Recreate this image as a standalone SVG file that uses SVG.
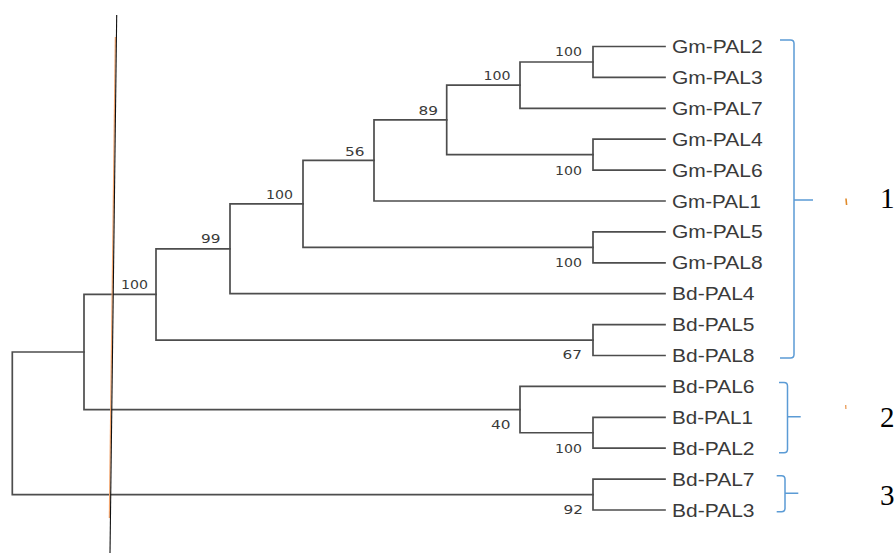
<svg xmlns="http://www.w3.org/2000/svg" width="896" height="554" viewBox="0 0 896 554">
  <style>
    .br { fill: none; stroke: #4d4d4d; stroke-width: 1.7; stroke-linecap: square; }
    .leaf { font-family: "Liberation Sans", Arial, sans-serif; font-size: 17.5px; fill: #3a3a3a; }
    .bs { font-family: "DejaVu Sans", Verdana, sans-serif; font-size: 13px; fill: #3a3a3a; text-anchor: end; }
    .brace { fill: none; stroke: #5b9bd5; stroke-width: 1.5; }
    .grp { font-family: "Liberation Serif", "Times New Roman", serif; font-size: 29px; fill: #000; }
  </style>
  <rect width="896" height="554" fill="#ffffff"/>

  <!-- tree branches -->
  <g id="branches">
    <path class="br" d="M593,46.5 V77.4 M593,46.5 H665 M593,77.4 H665"/>
    <path class="br" d="M520,62 V108.3 M520,62 H593 M520,108.3 H665"/>
    <path class="br" d="M593,139.2 V170.1 M593,139.2 H665 M593,170.1 H665"/>
    <path class="br" d="M446.7,85.1 V154.65 M446.7,85.1 H520 M446.7,154.65 H593"/>
    <path class="br" d="M374,119.9 V201 M374,119.9 H446.7 M374,201 H665"/>
    <path class="br" d="M593,231.9 V262.8 M593,231.9 H665 M593,262.8 H665"/>
    <path class="br" d="M303,160.45 V247.35 M303,160.45 H374 M303,247.35 H593"/>
    <path class="br" d="M230,203.9 V293.7 M230,203.9 H303 M230,293.7 H665"/>
    <path class="br" d="M593,324.6 V355.5 M593,324.6 H665 M593,355.5 H665"/>
    <path class="br" d="M156,248.8 V340.05 M156,248.8 H230 M156,340.05 H593"/>
    <path class="br" d="M593,417.3 V448.2 M593,417.3 H665 M593,448.2 H665"/>
    <path class="br" d="M520,386.4 V432.75 M520,386.4 H665 M520,432.75 H593"/>
    <path class="br" d="M84,294.4 V409.6 M84,294.4 H156 M84,409.6 H520"/>
    <path class="br" d="M593,479.1 V510 M593,479.1 H665 M593,510 H665"/>
    <path class="br" d="M12.3,352 V494.55 M12.3,352 H84 M12.3,494.55 H593"/>
  </g>

  <!-- leaves -->
  <g id="gm-pal2"><text class="leaf" x="672" y="53" textLength="90.7" lengthAdjust="spacingAndGlyphs">Gm-PAL2</text></g>
  <g id="gm-pal3"><text class="leaf" x="672" y="83.9" textLength="90.7" lengthAdjust="spacingAndGlyphs">Gm-PAL3</text></g>
  <g id="gm-pal7"><text class="leaf" x="672" y="114.8" textLength="90.7" lengthAdjust="spacingAndGlyphs">Gm-PAL7</text></g>
  <g id="gm-pal4"><text class="leaf" x="672" y="145.7" textLength="90.7" lengthAdjust="spacingAndGlyphs">Gm-PAL4</text></g>
  <g id="gm-pal6"><text class="leaf" x="672" y="176.6" textLength="90.7" lengthAdjust="spacingAndGlyphs">Gm-PAL6</text></g>
  <g id="gm-pal1"><text class="leaf" x="672" y="207.5" textLength="89" lengthAdjust="spacingAndGlyphs">Gm-PAL1</text></g>
  <g id="gm-pal5"><text class="leaf" x="672" y="238.4" textLength="90.7" lengthAdjust="spacingAndGlyphs">Gm-PAL5</text></g>
  <g id="gm-pal8"><text class="leaf" x="672" y="269.3" textLength="90.7" lengthAdjust="spacingAndGlyphs">Gm-PAL8</text></g>
  <g id="bd-pal4"><text class="leaf" x="672" y="300.2" textLength="82.5" lengthAdjust="spacingAndGlyphs">Bd-PAL4</text></g>
  <g id="bd-pal5"><text class="leaf" x="672" y="331.1" textLength="82.5" lengthAdjust="spacingAndGlyphs">Bd-PAL5</text></g>
  <g id="bd-pal8"><text class="leaf" x="672" y="362" textLength="82.5" lengthAdjust="spacingAndGlyphs">Bd-PAL8</text></g>
  <g id="bd-pal6"><text class="leaf" x="672" y="392.9" textLength="82.5" lengthAdjust="spacingAndGlyphs">Bd-PAL6</text></g>
  <g id="bd-pal1"><text class="leaf" x="672" y="423.8" textLength="81" lengthAdjust="spacingAndGlyphs">Bd-PAL1</text></g>
  <g id="bd-pal2"><text class="leaf" x="672" y="454.7" textLength="82.5" lengthAdjust="spacingAndGlyphs">Bd-PAL2</text></g>
  <g id="bd-pal7"><text class="leaf" x="672" y="485.6" textLength="82.5" lengthAdjust="spacingAndGlyphs">Bd-PAL7</text></g>
  <g id="bd-pal3"><text class="leaf" x="672" y="516.5" textLength="82.5" lengthAdjust="spacingAndGlyphs">Bd-PAL3</text></g>

  <!-- bootstrap support values -->
  <g id="node-a"><text class="bs" x="582" y="56" textLength="27" lengthAdjust="spacingAndGlyphs">100</text></g>
  <g id="node-b"><text class="bs" x="510.5" y="79.5" textLength="27" lengthAdjust="spacingAndGlyphs">100</text></g>
  <g id="node-c"><text class="bs" x="582" y="175" textLength="27" lengthAdjust="spacingAndGlyphs">100</text></g>
  <g id="node-d"><text class="bs" x="438" y="115" textLength="19.5" lengthAdjust="spacingAndGlyphs">89</text></g>
  <g id="node-e"><text class="bs" x="364.5" y="155.5" textLength="19.5" lengthAdjust="spacingAndGlyphs">56</text></g>
  <g id="node-f"><text class="bs" x="582" y="267" textLength="27" lengthAdjust="spacingAndGlyphs">100</text></g>
  <g id="node-g"><text class="bs" x="293" y="198.5" textLength="27" lengthAdjust="spacingAndGlyphs">100</text></g>
  <g id="node-h"><text class="bs" x="220.5" y="242.5" textLength="19.5" lengthAdjust="spacingAndGlyphs">99</text></g>
  <g id="node-i"><text class="bs" x="582" y="359" textLength="19.5" lengthAdjust="spacingAndGlyphs">67</text></g>
  <g id="node-j"><text class="bs" x="148" y="289" textLength="27" lengthAdjust="spacingAndGlyphs">100</text></g>
  <g id="node-k"><text class="bs" x="582" y="452.5" textLength="27" lengthAdjust="spacingAndGlyphs">100</text></g>
  <g id="node-l"><text class="bs" x="510.5" y="429" textLength="19.5" lengthAdjust="spacingAndGlyphs">40</text></g>
  <g id="node-n"><text class="bs" x="583" y="514" textLength="19.5" lengthAdjust="spacingAndGlyphs">92</text></g>

  <!-- group braces -->
  <g id="group-1">
    <path class="brace" d="M780,40 H790.5 Q794,40 794,43.5 V354.5 Q794,358 790.5,358 H780 M794,200 H813"/>
    <text class="grp" x="880" y="207.5">1</text>
  </g>
  <g id="group-2">
    <path class="brace" d="M779,382.5 H784 Q787.5,382.5 787.5,386 V449.2 Q787.5,452.7 784,452.7 H779 M787.5,416.7 H800.7"/>
    <text class="grp" x="880" y="426.5">2</text>
  </g>
  <g id="group-3">
    <path class="brace" d="M776.7,475.7 H781.5 Q785,475.7 785,479.2 V508.2 Q785,511.7 781.5,511.7 H776.7 M785,493.3 H798.3"/>
    <text class="grp" x="880" y="504.5">3</text>
  </g>

  <!-- small orange specks -->
  <path d="M846,198.5 L846.6,205" stroke="#e08a2a" stroke-width="1.6" fill="none"/>
  <path d="M845.7,405 L845.9,409" stroke="#e8944a" stroke-width="1.2" fill="none"/>

  <!-- cut line -->
  <line x1="115.4" y1="37" x2="109.4" y2="518" stroke="#f2a56e" stroke-width="1.3"/>
  <line x1="116.7" y1="15" x2="110" y2="553" stroke="#111111" stroke-width="1.1"/>
</svg>
